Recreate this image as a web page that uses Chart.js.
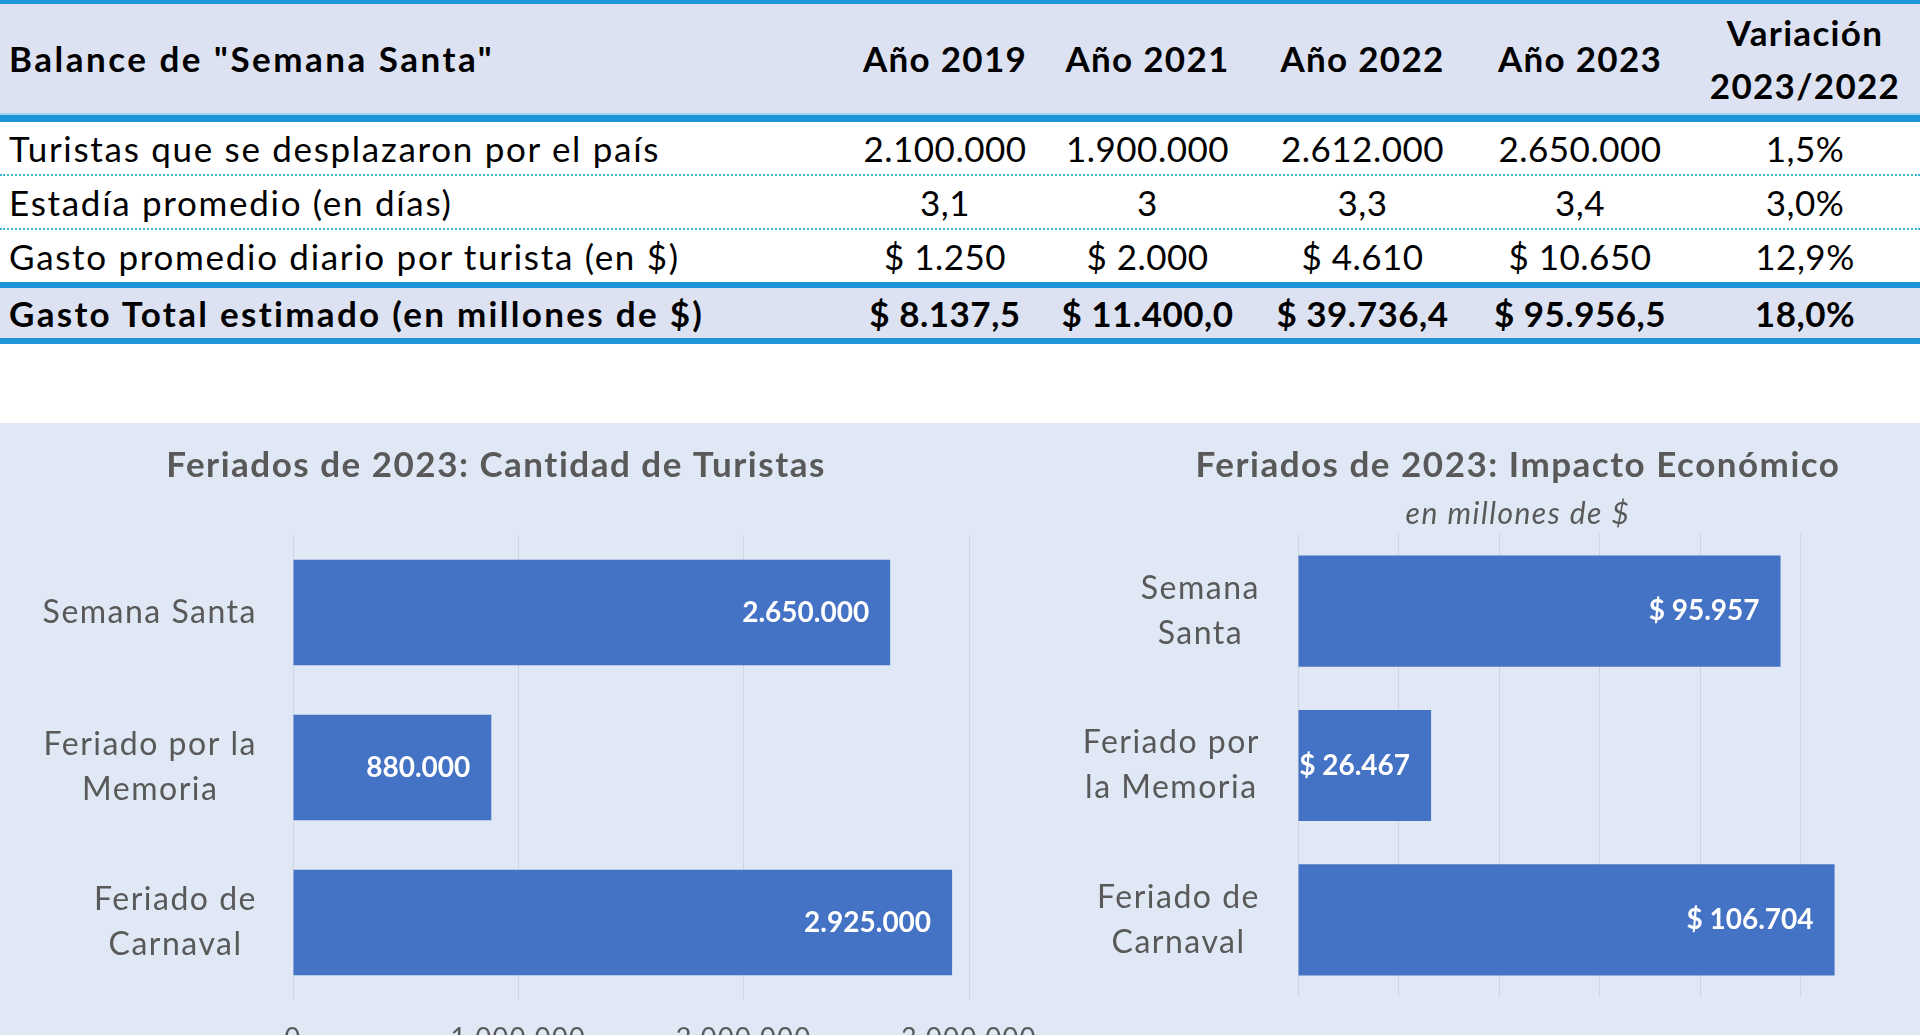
<!DOCTYPE html>
<html lang="es">
<head>
<meta charset="utf-8">
<title>Balance de Semana Santa</title>
<script src="https://cdn.jsdelivr.net/npm/chart.js@4.4.0/dist/chart.umd.min.js"></script>
<style>
  html, body { margin: 0; padding: 0; }
  body {
    width: 1920px; height: 1035px; overflow: hidden; position: relative;
    background: #fff; font-family: Lato, "Open Sans", sans-serif; color: #000;
  }
  .fila {
    display: grid;
    grid-template-columns: 850px 190px 215px 215px 220px 230px;
    align-items: center;
  }
  .fila > div { text-align: center; white-space: nowrap; font-size: 35px; letter-spacing: 0.5px; }
  .fila > div:first-child { text-align: left; padding-left: 9px; letter-spacing: 1.7px; }
  .cab { height: 109px; background: #dde2f2; }
  .cab > div { font-weight: bold; line-height: 53px; letter-spacing: 1.3px; }
  .cab > div:first-child { letter-spacing: 2.5px; }
  .normal { height: 52px; }
  .punteada { border-bottom: 2px dotted #3fb6d3; }
  .total { height: 50px; background: #dde2f2; }
  .total > div { font-weight: bold; }
  .total > div:first-child { letter-spacing: 2.3px; }
  .linea-fina { height: 4px; background: #1e98da; }
  .linea-gruesa { height: 7px; background: #1e95d7; border-top: 2px solid #9ed6f0; }
  .linea-media { height: 6px; background: #1e95d7; }
  #panel {
    position: absolute; left: 0; top: 423px; width: 1920px; height: 612px;
    background: #dfe8f4;
  }
  #graf-turistas { position: absolute; left: 23px; top: 423px; }
  #graf-impacto { position: absolute; left: 1034px; top: 423px; }
</style>
</head>
<body>
<div id="tabla"></div>
<div id="panel"></div>
<canvas id="graf-turistas" width="1076" height="690"></canvas>
<canvas id="graf-impacto" width="968" height="690"></canvas>

<script>
// tabla "Balance de Semana Santa"
const tituloTabla = 'Balance de "Semana Santa"';
const columnas = ['Año 2019', 'Año 2021', 'Año 2022', 'Año 2023', ['Variación', '2023/2022']];
const filas = [
  'Turistas que se desplazaron por el país',
  'Estadía promedio (en días)',
  'Gasto promedio diario por turista (en $)'
];
const turistasPorAnio = ['2.100.000', '1.900.000', '2.612.000', '2.650.000', '1,5%'];
const estadiaPorAnio = ['3,1', '3', '3,3', '3,4', '3,0%'];
const gastoDiarioPorAnio = ['$ 1.250', '$ 2.000', '$ 4.610', '$ 10.650', '12,9%'];
const filaTotal = 'Gasto Total estimado (en millones de $)';
const gastoTotalPorAnio = ['$ 8.137,5', '$ 11.400,0', '$ 39.736,4', '$ 95.956,5', '18,0%'];

// graficos de feriados 2023
const feriadosTuristas = ['Semana Santa', ['Feriado por la', 'Memoria'], ['Feriado de', 'Carnaval']];
const cantidadTuristas = [2650000, 880000, 2925000];
const ticksTuristas = [0, 1000000, 2000000, 3000000];

const feriadosImpacto = [['Semana', 'Santa'], ['Feriado por', 'la Memoria'], ['Feriado de', 'Carnaval']];
const impactoEconomico = [95957, 26467, 106704];
const ticksImpacto = [0, 20000, 40000, 60000, 80000, 100000];

const GRIS = '#595959';
const AZUL = '#4472c4';
const GRILLA = '#cdd5df';

function miles(n) {
  return String(Math.round(n)).replace(/\B(?=(\d{3})+(?!\d))/g, '.');
}

// armar la tabla
function celda(txt) {
  const d = document.createElement('div');
  if (Array.isArray(txt)) d.innerHTML = txt.join('<br>');
  else d.textContent = txt;
  return d;
}
function fila(clase, etiqueta, valores) {
  const f = document.createElement('div');
  f.className = 'fila ' + clase;
  f.appendChild(celda(etiqueta));
  valores.forEach(v => f.appendChild(celda(v)));
  return f;
}
function linea(clase) {
  const l = document.createElement('div');
  l.className = clase;
  return l;
}
const tabla = document.getElementById('tabla');
tabla.appendChild(linea('linea-fina'));
tabla.appendChild(fila('cab', tituloTabla, columnas));
tabla.appendChild(linea('linea-gruesa'));
tabla.appendChild(fila('normal punteada', filas[0], turistasPorAnio));
tabla.appendChild(fila('normal punteada', filas[1], estadiaPorAnio));
tabla.appendChild(fila('normal', filas[2], gastoDiarioPorAnio));
tabla.appendChild(linea('linea-media'));
tabla.appendChild(fila('total', filaTotal, gastoTotalPorAnio));
tabla.appendChild(linea('linea-media'));

// el texto original es algo mas ancho, se abre un poco el espaciado
const espaciado = {
  id: 'espaciado',
  beforeDraw(chart) { chart.ctx.letterSpacing = '1.5px'; }
};

// etiquetas de categoria como en Excel: bloque alineado a la derecha,
// renglones centrados dentro del bloque
function etiquetasCategorias(separacion) {
  return {
    id: 'etiquetasCategorias',
    afterDraw(chart) {
      const ctx = chart.ctx;
      const escala = chart.scales.y;
      const derecha = chart.chartArea.left - separacion;
      const alto = 45;
      ctx.save();
      ctx.letterSpacing = '1.5px';
      ctx.font = '32px Lato';
      ctx.fillStyle = GRIS;
      ctx.textAlign = 'center';
      ctx.textBaseline = 'middle';
      chart.data.labels.forEach((etiqueta, i) => {
        const renglones = Array.isArray(etiqueta) ? etiqueta : [etiqueta];
        const ancho = Math.max(...renglones.map(r => ctx.measureText(r).width));
        const cx = derecha - ancho / 2;
        const cy = escala.getPixelForValue(i);
        renglones.forEach((r, j) => {
          ctx.fillText(r, cx, cy + (j - (renglones.length - 1) / 2) * alto);
        });
      });
      ctx.restore();
    }
  };
}

// etiquetas blancas dentro del extremo de cada barra
function etiquetasBarras(formato) {
  return {
    id: 'etiquetasBarras',
    afterDatasetsDraw(chart) {
      const ctx = chart.ctx;
      const datos = chart.data.datasets[0].data;
      ctx.save();
      ctx.letterSpacing = '0px';
      ctx.fillStyle = '#ffffff';
      ctx.font = 'bold 28px Lato';
      ctx.textAlign = 'right';
      ctx.textBaseline = 'middle';
      chart.getDatasetMeta(0).data.forEach((barra, i) => {
        ctx.fillText(formato(datos[i]), barra.x - 21, barra.y);
      });
      ctx.restore();
    }
  };
}

function dibujar() {
  Chart.defaults.font.family = 'Lato';
  Chart.defaults.color = GRIS;

  new Chart(document.getElementById('graf-turistas'), {
    type: 'bar',
    data: {
      labels: feriadosTuristas,
      datasets: [{
        data: cantidadTuristas,
        backgroundColor: AZUL,
        barPercentage: 0.68,
        categoryPercentage: 1
      }]
    },
    options: {
      indexAxis: 'y',
      responsive: false,
      animation: false,
      layout: { padding: { left: 0, right: 130, top: 0, bottom: 0 } },
      plugins: {
        legend: { display: false },
        tooltip: { enabled: false },
        title: {
          display: true,
          text: 'Feriados de 2023: Cantidad de Turistas',
          color: GRIS,
          font: { size: 35, weight: 'bold' },
          padding: { top: 22, bottom: 48 }
        }
      },
      scales: {
        x: {
          min: 0,
          max: 3000000,
          afterBuildTicks(s) { s.ticks = ticksTuristas.map(v => ({ value: v })); },
          grid: { color: GRILLA, drawTicks: false },
          border: { display: false },
          ticks: { color: GRIS, font: { size: 27 }, padding: 22, callback: v => miles(v) },
          afterFit(s) { s.height = 113; }
        },
        y: {
          grid: { display: false, drawTicks: false },
          border: { display: false },
          ticks: { display: false },
          afterFit(s) { s.width = 270; }
        }
      }
    },
    plugins: [espaciado, etiquetasCategorias(36), etiquetasBarras(v => miles(v))]
  });

  new Chart(document.getElementById('graf-impacto'), {
    type: 'bar',
    data: {
      labels: feriadosImpacto,
      datasets: [{
        data: impactoEconomico,
        backgroundColor: AZUL,
        barPercentage: 0.72,
        categoryPercentage: 1
      }]
    },
    options: {
      indexAxis: 'y',
      responsive: false,
      animation: false,
      layout: { padding: 0 },
      plugins: {
        legend: { display: false },
        tooltip: { enabled: false },
        title: {
          display: true,
          text: 'Feriados de 2023: Impacto Económico',
          color: GRIS,
          font: { size: 35, weight: 'bold' },
          padding: { top: 22, bottom: 0 }
        },
        subtitle: {
          display: true,
          text: 'en millones de $',
          color: GRIS,
          font: { size: 30, style: 'italic' },
          padding: { top: 9, bottom: 2 }
        }
      },
      scales: {
        x: {
          min: 0,
          max: 140000,
          afterBuildTicks(s) { s.ticks = ticksImpacto.map(v => ({ value: v })); },
          grid: { color: GRILLA, drawTicks: false },
          border: { display: false },
          ticks: { display: false },
          afterFit(s) { s.height = 116; }
        },
        y: {
          grid: { display: false, drawTicks: false },
          border: { display: false },
          ticks: { display: false },
          afterFit(s) { s.width = 264; }
        }
      }
    },
    plugins: [espaciado, etiquetasCategorias(38), etiquetasBarras(v => '$ ' + miles(v))]
  });
}

Promise.all([
  document.fonts.load('bold 35px Lato'),
  document.fonts.load('32px Lato'),
  document.fonts.load('italic 30px Lato')
]).then(dibujar, dibujar);
</script>
</body>
</html>
